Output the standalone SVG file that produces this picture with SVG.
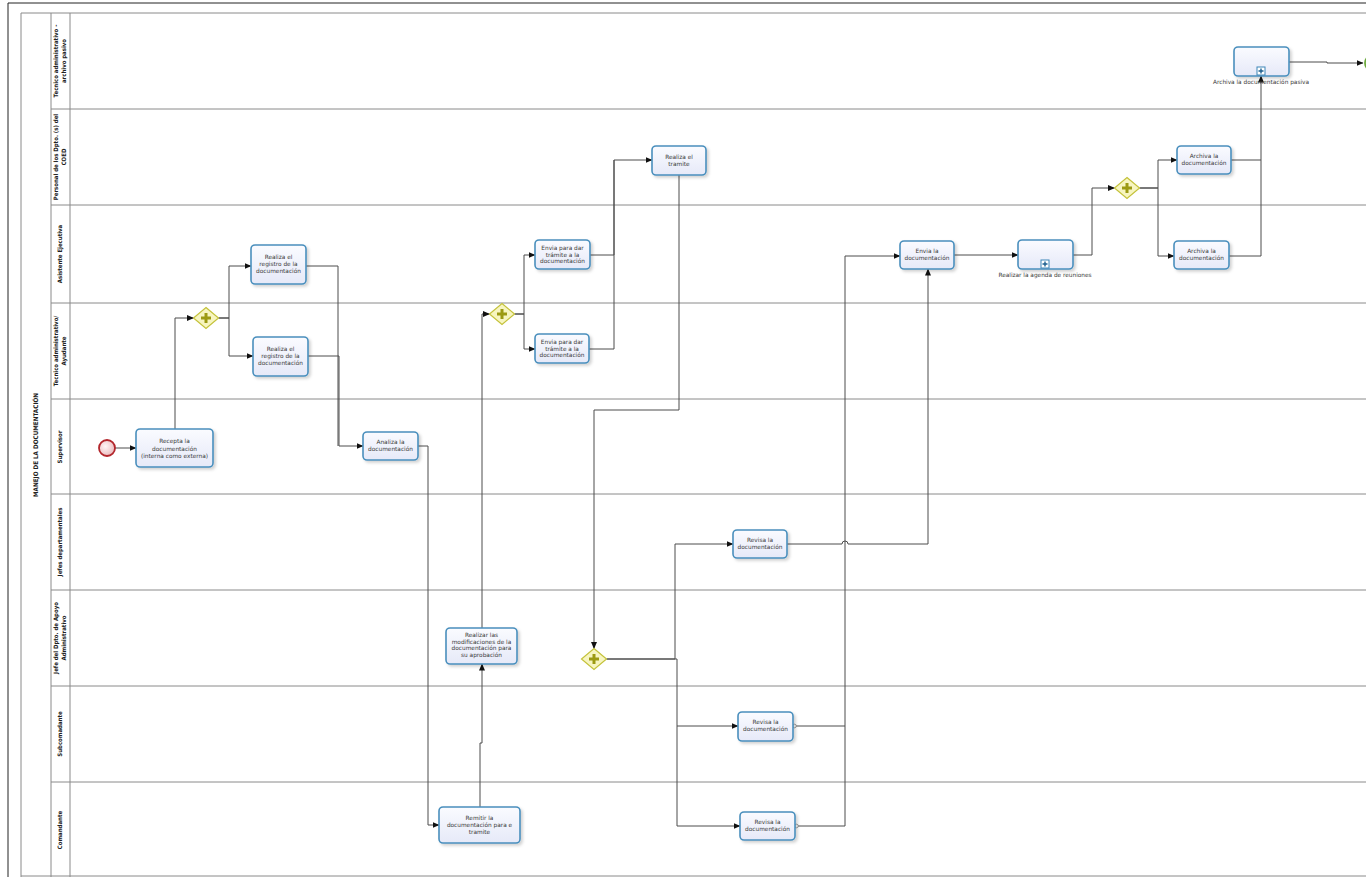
<svg xmlns="http://www.w3.org/2000/svg" width="1366" height="877" viewBox="0 0 1366 877">
<style>
.lane{stroke:#8a8a8a;stroke-width:1;fill:none}
.frame{stroke:#222;stroke-width:1;fill:none}
.lbl{font-family:"DejaVu Sans Condensed","DejaVu Sans",sans-serif;font-weight:bold;font-size:6px;fill:#222;text-anchor:middle}
.task rect.b{fill:url(#tg);stroke:#4a8fbd;stroke-width:1.6}
.tt{font-family:"DejaVu Sans",sans-serif;font-size:5.8px;fill:#3a3a3a;text-anchor:middle}
.gw polygon{fill:#f7f5c0;stroke:#c4c23a;stroke-width:1.2}
.gw path{stroke:#9c9a12;stroke-width:3;fill:none}
.con{stroke:#4d4d4d;stroke-width:1;fill:none}
.conA{stroke:#4d4d4d;stroke-width:1;fill:none;marker-end:url(#arr)}
</style>
<defs>
<linearGradient id="tg" x1="0" y1="0" x2="0" y2="1"><stop offset="0" stop-color="#fafbff"/><stop offset="1" stop-color="#e6e9f8"/></linearGradient>
<radialGradient id="sg" cx="0.4" cy="0.4" r="0.7"><stop offset="0" stop-color="#fff5f5"/><stop offset="1" stop-color="#e8b4b8"/></radialGradient>
<filter id="sh" x="-20%" y="-20%" width="150%" height="160%"><feDropShadow dx="2" dy="2" stdDeviation="1.5" flood-color="#000" flood-opacity="0.18"/></filter>
<marker id="arr" markerWidth="7" markerHeight="6" refX="6.5" refY="3" orient="auto" markerUnits="userSpaceOnUse"><path d="M0,0 L7,3 L0,6 Z" fill="#111"/></marker>
</defs>
<rect x="0" y="0" width="1366" height="877" fill="#fff"/>
<g id="pool">
<path class="frame" d="M8,877 V3 H1366"/>
<path class="lane" d="M21,877 V13 H1366 M51,13 V877 M70,13 V877"/>
<path class="lane" d="M51,109 H1366 M51,205 H1366 M51,303 H1366 M51,399 H1366 M51,494 H1366 M51,590 H1366 M51,686 H1366 M51,782 H1366 M21,876 H1366"/>
<text class="lbl" transform="translate(38,445) rotate(-90)" style="font-size:6.3px">MANEJO DE LA DOCUMENTACIÓN</text>
<text class="lbl" transform="translate(58,61) rotate(-90)">Tecnico  administrativo -</text>
<text class="lbl" transform="translate(66,61) rotate(-90)">archivo pasivo</text>
<text class="lbl" transform="translate(58,157) rotate(-90)">Personal de los Dpto. (s) del</text>
<text class="lbl" transform="translate(66,157) rotate(-90)">COED</text>
<text class="lbl" transform="translate(62,254) rotate(-90)">Asistente Ejecutiva</text>
<text class="lbl" transform="translate(58,351) rotate(-90)">Tecnico administrativo/</text>
<text class="lbl" transform="translate(66,351) rotate(-90)">Ayudante</text>
<text class="lbl" transform="translate(62,447) rotate(-90)">Supervisor</text>
<text class="lbl" transform="translate(62,542) rotate(-90)">Jefes departamentales</text>
<text class="lbl" transform="translate(58,638) rotate(-90)">Jefe del Dpto. de Apoyo</text>
<text class="lbl" transform="translate(66,638) rotate(-90)">Administrativo</text>
<text class="lbl" transform="translate(62,734) rotate(-90)">Subcomadante</text>
<text class="lbl" transform="translate(62,830) rotate(-90)">Comandante</text>
</g>
<g id="connectors">
<path class="conA" d="M115,448 H136"/>
<path class="conA" d="M175,429 V318 H193.5"/>
<path class="conA" d="M218.5,318 H229 V266 H251"/>
<path class="conA" d="M218.5,318 H229 V356 H253"/>
<path class="con" d="M306,266 H338 V446"/>
<path class="conA" d="M308,356 H339 V446 H363"/>
<path class="conA" d="M418,446 H428 V825 H439"/>
<path class="conA" d="M480,807 V743 H482 V664"/>
<path class="conA" d="M482,628 V314 H489.5"/>
<path class="conA" d="M514.5,314 H524 V255 H535"/>
<path class="conA" d="M514.5,314 H524 V349 H535"/>
<path class="con" d="M590,255 H614 V160"/>
<path class="conA" d="M589,349 H614 V160 H652"/>
<path class="conA" d="M679,175 V410 H594 V648.5"/>
<path class="conA" d="M606.5,659 H675 V544 H733"/>
<path class="conA" d="M606.5,659 H677 V726 H738"/>
<path class="conA" d="M677,726 V826 H740"/>
<path class="conA" d="M787,544 H842 A3,3 0 0 1 848,544 H928 V269"/>
<path class="conA" d="M796,726 H845 V256 H900"/>
<path class="con" d="M798,826 H845 V726"/>
<circle cx="794.5" cy="726" r="1.8" fill="#fff" stroke="#888" stroke-width="0.8"/>
<circle cx="796.5" cy="826" r="1.8" fill="#fff" stroke="#888" stroke-width="0.8"/>
<path class="conA" d="M954,255 H1018"/>
<path class="conA" d="M1073,255 H1092 V188 H1114.5"/>
<path class="conA" d="M1139.5,188 H1158 V160 H1177"/>
<path class="conA" d="M1139.5,188 H1158 V256 H1174"/>
<path class="con" d="M1231,160 H1261"/>
<path class="conA" d="M1229,256 H1261 V76"/>
<path class="conA" d="M1289,62 H1327 V63 H1363"/>
</g>
<g id="start"><circle cx="107" cy="448" r="8" fill="url(#sg)" stroke="#b3262c" stroke-width="1.8"/></g>
<g id="end"><circle cx="1373" cy="63" r="8" fill="#e6f5d0" stroke="#6aa83a" stroke-width="1.8"/></g>
<g id="t1" class="task"><rect class="b" x="136" y="429" width="77" height="38" rx="4" filter="url(#sh)"/><text class="tt" x="174.5" y="443">Recepta la<tspan x="174.5" dy="7.5">documentación</tspan><tspan x="174.5" dy="7.5">(interna como externa)</tspan></text></g>
<g id="t2" class="task"><rect class="b" x="251" y="245" width="55" height="39" rx="4" filter="url(#sh)"/><text class="tt" x="278.5" y="259">Realiza el<tspan x="278.5" dy="7">registro de la</tspan><tspan x="278.5" dy="7">documentación</tspan></text></g>
<g id="t3" class="task"><rect class="b" x="253" y="337" width="55" height="39" rx="4" filter="url(#sh)"/><text class="tt" x="280.5" y="351">Realiza el<tspan x="280.5" dy="7">registro de la</tspan><tspan x="280.5" dy="7">documentación</tspan></text></g>
<g id="t4" class="task"><rect class="b" x="363" y="432" width="55" height="28" rx="4" filter="url(#sh)"/><text class="tt" x="390.5" y="444">Analiza la<tspan x="390.5" dy="7">documentación</tspan></text></g>
<g id="t5" class="task"><rect class="b" x="439" y="807" width="81" height="36" rx="4" filter="url(#sh)"/><text class="tt" x="479.5" y="820">Remitir la<tspan x="479.5" dy="7">documentación para e</tspan><tspan x="479.5" dy="7">tramite</tspan></text></g>
<g id="t6" class="task"><rect class="b" x="446" y="628" width="71" height="36" rx="4" filter="url(#sh)"/><text class="tt" x="481.5" y="637">Realizar las<tspan x="481.5" dy="6.5">modificaciones de la</tspan><tspan x="481.5" dy="6.5">documentación para</tspan><tspan x="481.5" dy="6.5">su aprobación</tspan></text></g>
<g id="t7" class="task"><rect class="b" x="535" y="240" width="55" height="29" rx="4" filter="url(#sh)"/><text class="tt" x="562.5" y="250">Envia para dar<tspan x="562.5" dy="6.5">trámite a la</tspan><tspan x="562.5" dy="6.5">documentación</tspan></text></g>
<g id="t8" class="task"><rect class="b" x="535" y="334" width="54" height="29" rx="4" filter="url(#sh)"/><text class="tt" x="562" y="344">Envia para dar<tspan x="562" dy="6.5">trámite a la</tspan><tspan x="562" dy="6.5">documentación</tspan></text></g>
<g id="t9" class="task"><rect class="b" x="652" y="146" width="54" height="29" rx="4" filter="url(#sh)"/><text class="tt" x="679" y="159">Realiza el<tspan x="679" dy="6.5">tramite</tspan></text></g>
<g id="t10" class="task"><rect class="b" x="733" y="530" width="54" height="28" rx="4" filter="url(#sh)"/><text class="tt" x="760" y="542">Revisa la<tspan x="760" dy="6.5">documentación</tspan></text></g>
<g id="t11" class="task"><rect class="b" x="738" y="712" width="55" height="29" rx="4" filter="url(#sh)"/><text class="tt" x="765.5" y="724">Revisa la<tspan x="765.5" dy="6.5">documentación</tspan></text></g>
<g id="t12" class="task"><rect class="b" x="740" y="812" width="55" height="28" rx="4" filter="url(#sh)"/><text class="tt" x="767.5" y="824">Revisa la<tspan x="767.5" dy="6.5">documentación</tspan></text></g>
<g id="t13" class="task"><rect class="b" x="900" y="241" width="54" height="28" rx="4" filter="url(#sh)"/><text class="tt" x="927" y="253">Envia la<tspan x="927" dy="6.5">documentación</tspan></text></g>
<g id="s1" class="task"><rect class="b" x="1018" y="240" width="55" height="29" rx="4" filter="url(#sh)"/><rect x="1041" y="260" width="8" height="8" fill="#fff" stroke="#3d86b8" stroke-width="1"/><path d="M1045,261.5 V266.5 M1042.5,264 H1047.5" stroke="#1c5f8f" stroke-width="1.4"/><text class="tt" x="1045" y="277">Realizar la agenda de reuniones</text></g>
<g id="t14" class="task"><rect class="b" x="1177" y="146" width="54" height="28" rx="4" filter="url(#sh)"/><text class="tt" x="1204" y="158">Archiva la<tspan x="1204" dy="6.5">documentación</tspan></text></g>
<g id="t15" class="task"><rect class="b" x="1174" y="241" width="55" height="28" rx="4" filter="url(#sh)"/><text class="tt" x="1201.5" y="253">Archiva la<tspan x="1201.5" dy="6.5">documentación</tspan></text></g>
<g id="s2" class="task"><rect class="b" x="1234" y="47" width="55" height="29" rx="4" filter="url(#sh)"/><rect x="1257" y="67" width="8" height="8" fill="#fff" stroke="#3d86b8" stroke-width="1"/><path d="M1261,68.5 V73.5 M1258.5,71 H1263.5" stroke="#1c5f8f" stroke-width="1.4"/><text class="tt" x="1261" y="84">Archiva la documentación pasiva</text></g>
<g id="g1" class="gw"><polygon points="206,307.5 218.5,318 206,328.5 193.5,318"/><path d="M206,313 V323 M201,318 H211"/></g>
<g id="g2" class="gw"><polygon points="502,303.5 514.5,314 502,324.5 489.5,314"/><path d="M502,309 V319 M497,314 H507"/></g>
<g id="g3" class="gw"><polygon points="594,648.5 606.5,659 594,669.5 581.5,659"/><path d="M594,654 V664 M589,659 H599"/></g>
<g id="g4" class="gw"><polygon points="1127,177.5 1139.5,188 1127,198.5 1114.5,188"/><path d="M1127,183 V193 M1122,188 H1132"/></g>
</svg>
